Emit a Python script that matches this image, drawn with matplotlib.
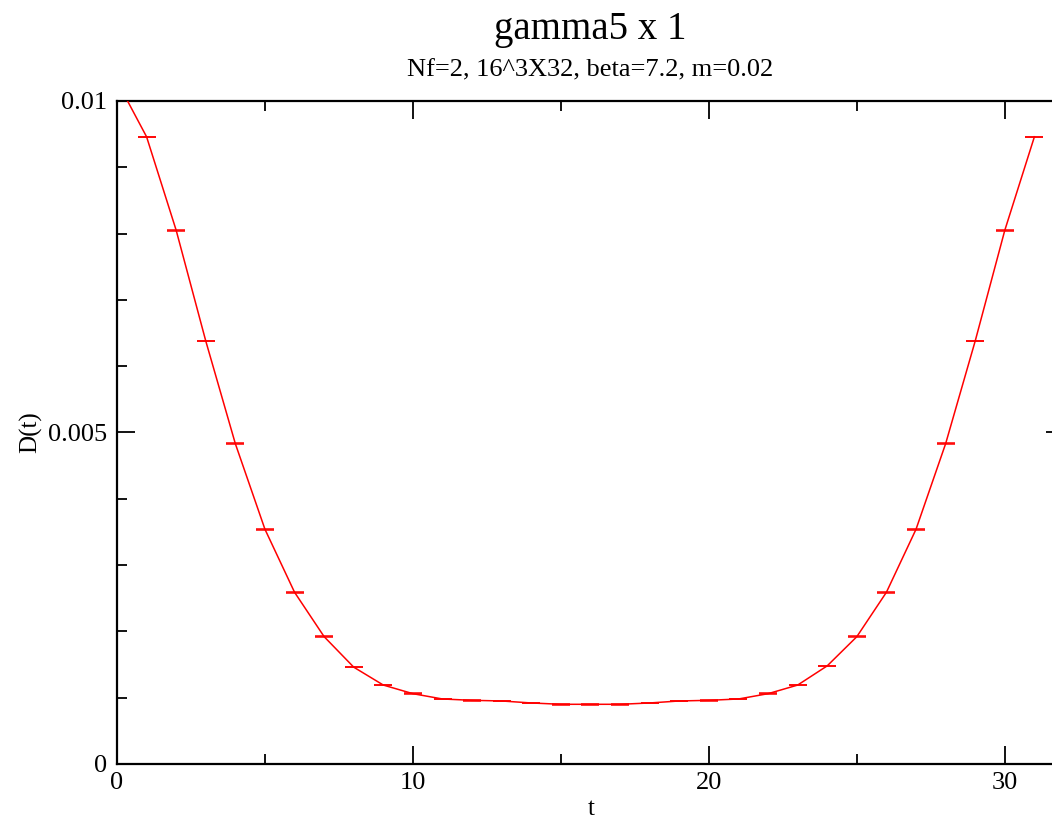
import matplotlib
matplotlib.use("Agg")
import matplotlib.pyplot as plt
from matplotlib.ticker import MultipleLocator, FixedLocator

t = list(range(0, 32))
D = [0.01030, 0.00946, 0.00805, 0.00638, 0.00483, 0.00354, 0.00259, 0.00192,
     0.00146, 0.00119, 0.00106, 0.00098, 0.00096, 0.00095, 0.00092, 0.00090,
     0.00090, 0.00090, 0.00092, 0.00095, 0.00096, 0.00098, 0.00106, 0.00119,
     0.00148, 0.00192, 0.00259, 0.00354, 0.00483, 0.00638, 0.00805, 0.00946]
err = [0.000004] * 32

plt.rcParams['font.family'] = ['Liberation Serif', 'DejaVu Serif']

fig = plt.figure(figsize=(10.52, 8.19), dpi=100)
ax = fig.add_axes([0.1112, 0.0672, 0.9002, 0.8095])

ax.errorbar(t, D, yerr=err, color='red', lw=1.1, capsize=6.8, capthick=1.1,
            elinewidth=1.1, zorder=3, clip_on=True)

ax.set_xlim(0, 32)
ax.set_ylim(0, 0.01)
ax.xaxis.set_major_locator(FixedLocator([0, 10, 20, 30]))
ax.xaxis.set_minor_locator(MultipleLocator(5))
ax.yaxis.set_major_locator(FixedLocator([0, 0.005, 0.01]))
ax.yaxis.set_minor_locator(MultipleLocator(0.001))
ax.set_xticklabels(['0', '10', '20', '30'])
ax.set_yticklabels(['0', '0.005', '0.01'])

ax.tick_params(which='both', direction='in', top=True, right=True, labelsize=19, width=1.3)
ax.tick_params(which='major', length=13)
ax.tick_params(which='minor', length=7)
ax.tick_params(axis='x', pad=6)
ax.tick_params(axis='y', pad=7)
for s in ax.spines.values():
    s.set_linewidth(1.6)

ax.set_xlabel('t', fontsize=18, labelpad=-2)
ax.set_ylabel('D(t)', fontsize=18, labelpad=4)
ax.xaxis.set_label_coords(474.0 / 947.0, -0.052)

fig.text(0.5615, 0.964, 'gamma5 x 1', ha='center', va='center', fontsize=28)
fig.text(0.5605, 0.914, 'Nf=2, 16^3X32, beta=7.2, m=0.02', ha='center', va='center', fontsize=19)

fig.savefig('out.png', dpi=100)
